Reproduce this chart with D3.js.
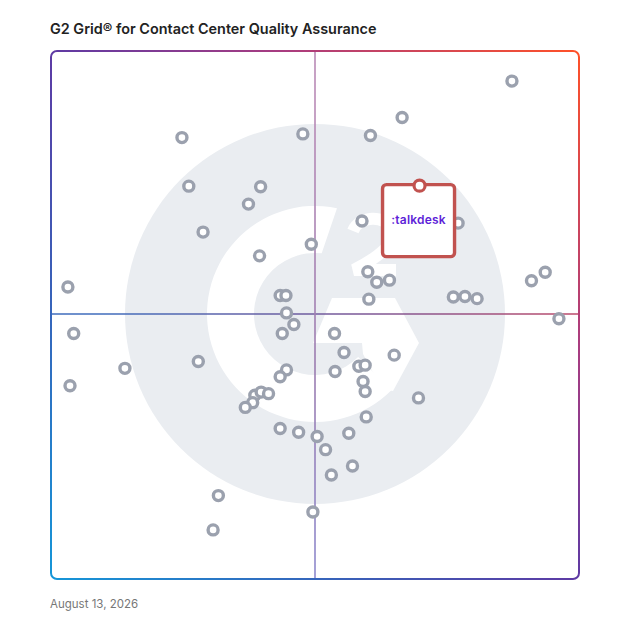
<!DOCTYPE html>
<html>
<head>
<meta charset="utf-8">
<script src="https://cdn.jsdelivr.net/npm/d3@7"></script>
<style>
  body { margin: 0; background: #fff; }
</style>
</head>
<body>
<div id="grid"></div>
<script>
// G2 grid data (0-100 on both axes)
var satisfaction = [87.3, 66.5, 24.8, 47.7, 60.5, 26.1, 39.7, 37.4, 28.8, 58.9,
    77.1, 49.3, 39.5, 3.2, 60.0, 61.7, 64.1, 60.2, 43.4, 44.5,
    76.2, 78.4, 80.7, 91.0, 93.6, 96.2, 44.6, 46.0, 43.8, 4.3,
    53.7, 55.5, 65.0, 27.9, 14.0, 58.3, 59.5, 53.8, 44.6, 43.4,
    3.6, 59.1, 59.5, 69.6, 38.6, 39.8, 41.2, 38.2, 36.8, 43.4,
    46.9, 50.4, 56.4, 59.7, 52.0, 57.1, 53.1, 31.7, 49.6, 30.7];
var marketPresence = [94.3, 87.4, 83.6, 84.3, 84.0, 74.4, 74.3, 71.0, 65.7, 67.8,
    67.4, 63.4, 61.2, 55.3, 58.2, 56.2, 56.6, 53.0, 53.7, 53.7,
    53.4, 53.5, 53.1, 56.5, 58.1, 49.3, 50.4, 48.2, 46.5, 46.5,
    46.5, 42.9, 42.4, 41.2, 39.9, 40.3, 40.5, 39.3, 39.6, 38.3,
    36.6, 37.4, 35.5, 34.3, 34.8, 35.4, 35.1, 33.4, 32.5, 28.5,
    27.8, 27.0, 27.6, 30.7, 24.5, 21.4, 19.7, 15.8, 12.7, 9.3];

var highlightName = "talkdesk";
var highlightSatisfaction = 69.8;
var highlightPresence = 74.5;

var chartTitle = "G2 Grid\u00ae for Contact Center Quality Assurance";
var chartDate = "August 13, 2026";

var svgWidth = 628;
var svgHeight = 628;

var margin = { top: 51, right: 49, bottom: 49, left: 51 };
var width = svgWidth - margin.left - margin.right;
var height = svgHeight - margin.top - margin.bottom;

var svg = d3.select("#grid")
    .append("svg")
    .attr("width", svgWidth)
    .attr("height", svgHeight)
    .style("display", "block");

var defs = svg.append("defs");

// border gradient: blue bottom-left -> purple -> orange top-right
var borderGrad = defs.append("linearGradient")
    .attr("id", "borderGrad")
    .attr("gradientUnits", "userSpaceOnUse")
    .attr("x1", margin.left).attr("y1", margin.top + height)
    .attr("x2", margin.left + width).attr("y2", margin.top);
[[0, "#1596d8"], [0.3, "#3c5cb6"], [0.5, "#5e3aa4"], [0.72, "#a93c80"], [1, "#ff5128"]]
    .forEach(function (s) {
        borderGrad.append("stop").attr("offset", s[0]).attr("stop-color", s[1]);
    });

var hGrad = defs.append("linearGradient")
    .attr("id", "hGrad")
    .attr("gradientUnits", "userSpaceOnUse")
    .attr("x1", margin.left).attr("y1", 0)
    .attr("x2", margin.left + width).attr("y2", 0);
[[0, "#3f6cbc"], [0.5, "#7c5796"], [1, "#cc4860"]].forEach(function (s) {
    hGrad.append("stop").attr("offset", s[0]).attr("stop-color", s[1]);
});

var vGrad = defs.append("linearGradient")
    .attr("id", "vGrad")
    .attr("gradientUnits", "userSpaceOnUse")
    .attr("x1", 0).attr("y1", margin.top)
    .attr("x2", 0).attr("y2", margin.top + height);
[[0, "#b98ab6"], [0.5, "#9b7cb0"], [1, "#8a8cd4"]].forEach(function (s) {
    vGrad.append("stop").attr("offset", s[0]).attr("stop-color", s[1]);
});

var chartGroup = svg.append("g")
    .attr("transform", `translate(${margin.left}, ${margin.top})`);

// Scales
var xLinearScale = d3.scaleLinear().domain([0, 100]).range([0, width]);
var yLinearScale = d3.scaleLinear().domain([0, 100]).range([height, 0]);

var cx = xLinearScale(50);
var cy = yLinearScale(50.2);

// G2 watermark in the background
var logo = chartGroup.append("g")
    .attr("transform", `translate(${cx}, ${cy})`);

logo.append("circle")
    .attr("r", 190)
    .attr("fill", "#eaedf1");

// the "G" ring, open on the right, top end cut at a slant
var rOut = 108, rIn = 61;
var a0 = Math.PI * 0.25;            // bottom right
var a1 = -Math.PI / 2 + 0.205;      // top end, outer edge
var a2 = -Math.PI / 2 + 0.11;       // top end, inner edge
var gPath = d3.path();
gPath.moveTo(rOut * Math.cos(a0), rOut * Math.sin(a0));
gPath.arc(0, 0, rOut, a0, a1 + 2 * Math.PI, false);
gPath.lineTo(rIn * Math.cos(a2), rIn * Math.sin(a2));
gPath.arc(0, 0, rIn, a2, a0, true);
gPath.closePath();
logo.append("path")
    .attr("d", gPath.toString())
    .attr("fill", "#fff");

// chevron of the G
logo.append("path")
    .attr("d", "M-2,29 L17,-16 L80,-16 L104,29 L78,77 L67,75 L48,40 L47,29 Z")
    .attr("fill", "#fff");

// the small "2"
logo.append("path")
    .attr("d", "M38,-83 C44,-98 70,-100 76,-84 C81,-70 62,-56 39,-44 L81,-44")
    .attr("fill", "none")
    .attr("stroke", "#fff")
    .attr("stroke-width", 12);

// Quadrant lines
chartGroup.append("line")
    .attr("x1", 0).attr("x2", width)
    .attr("y1", cy).attr("y2", cy)
    .attr("stroke", "url(#hGrad)")
    .attr("stroke-width", 1.6);

chartGroup.append("line")
    .attr("x1", cx).attr("x2", cx)
    .attr("y1", 0).attr("y2", height)
    .attr("stroke", "url(#vGrad)")
    .attr("stroke-width", 1.6);

// Border
chartGroup.append("rect")
    .attr("x", 0).attr("y", 0)
    .attr("width", width).attr("height", height)
    .attr("rx", 6)
    .attr("fill", "none")
    .attr("stroke", "url(#borderGrad)")
    .attr("stroke-width", 2);

// Products
var products = satisfaction.map(function (s, i) {
    return { satisfaction: s, presence: marketPresence[i] };
});

chartGroup.append("g")
    .selectAll("circle")
    .data(products)
    .enter()
    .append("circle")
    .attr("cx", d => xLinearScale(d.satisfaction))
    .attr("cy", d => yLinearScale(d.presence))
    .attr("r", 5)
    .attr("fill", "#fff")
    .attr("stroke", "#9ba1ae")
    .attr("stroke-width", 3.4);

// Highlighted product card
var hx = xLinearScale(highlightSatisfaction);
var hy = yLinearScale(highlightPresence);
var card = chartGroup.append("g")
    .attr("transform", `translate(${hx}, ${hy})`);

card.append("rect")
    .attr("x", -37).attr("y", -1)
    .attr("width", 72).attr("height", 72)
    .attr("rx", 4)
    .attr("fill", "#fff")
    .attr("stroke", "#c1524f")
    .attr("stroke-width", 3.4);

card.append("text")
    .attr("x", -1)
    .attr("y", 38)
    .attr("text-anchor", "middle")
    .attr("font-family", "Inter, sans-serif")
    .attr("font-size", "12px")
    .attr("font-weight", 600)
    .attr("letter-spacing", "0.2px")
    .attr("fill", "#5e1fd8")
    .text(":" + highlightName);

card.append("circle")
    .attr("r", 5.5)
    .attr("fill", "#fff")
    .attr("stroke", "#c1524f")
    .attr("stroke-width", 3.2);

// Title and date
svg.append("text")
    .attr("x", 50)
    .attr("y", 34)
    .attr("font-family", "Inter, sans-serif")
    .attr("font-size", "14.4px")
    .attr("font-weight", 600)
    .attr("fill", "#222")
    .text(chartTitle);

svg.append("text")
    .attr("x", 50)
    .attr("y", 608)
    .attr("font-family", "Inter, sans-serif")
    .attr("font-size", "11.5px")
    .attr("fill", "#777")
    .text(chartDate);
</script>
</body>
</html>
